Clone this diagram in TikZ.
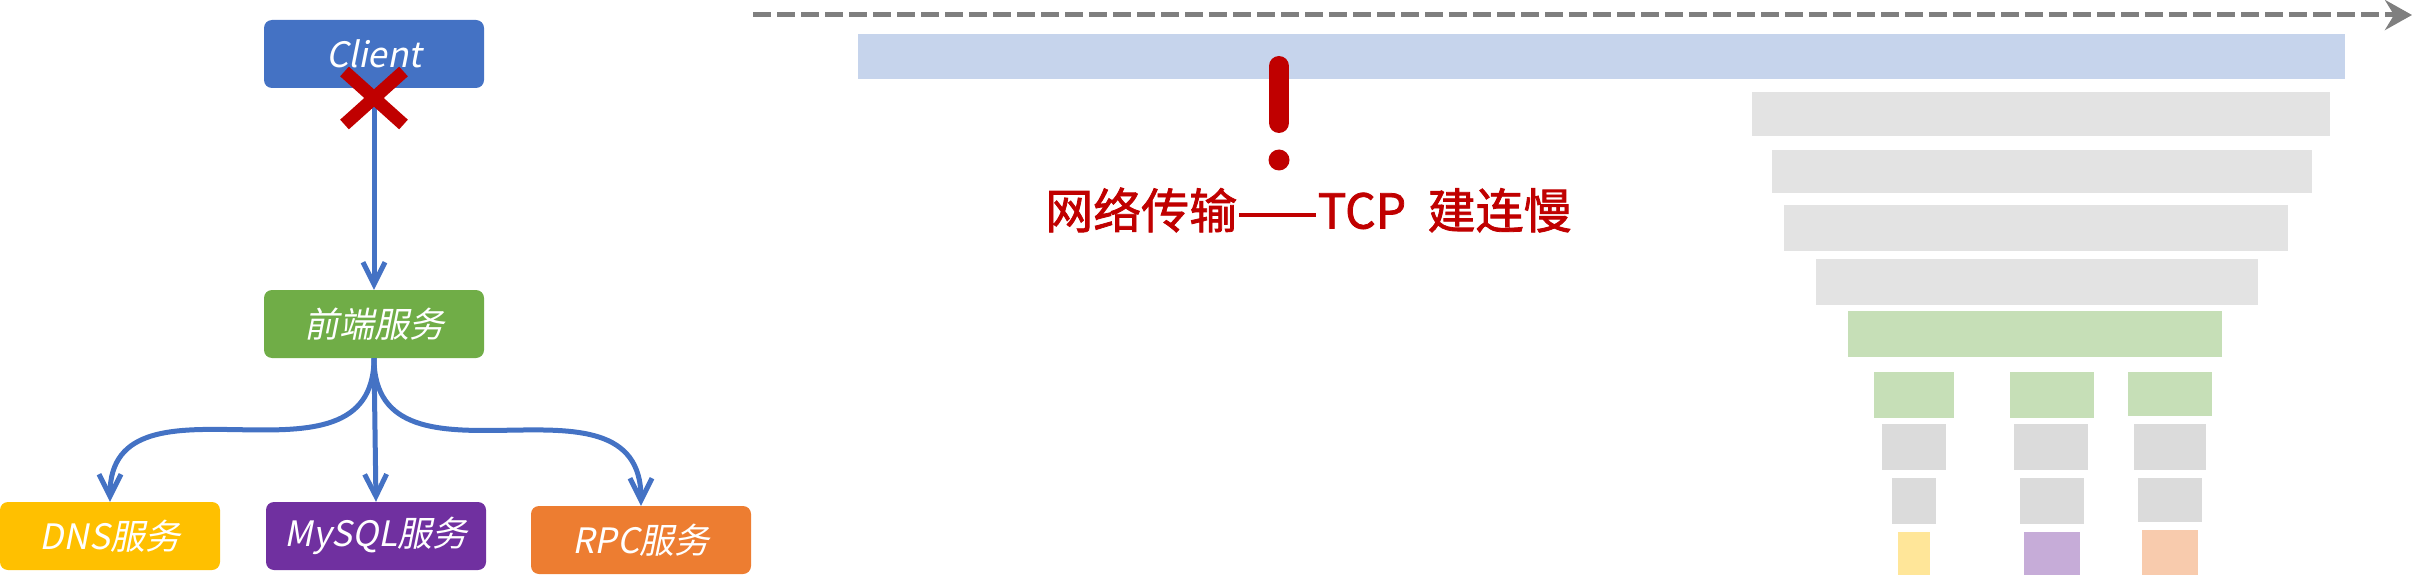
\documentclass[tikz,border=0pt]{standalone}
\usepackage{fontspec}
\newfontfamily\cjk[FakeBold=1.6]{Noto Sans CJK SC}
\newfontfamily\cjkslant[FakeSlant=0.2]{Noto Sans CJK SC}
\usetikzlibrary{arrows.meta,shapes.misc}

\definecolor{cblue}{HTML}{4472C4}
\definecolor{cgreen}{HTML}{70AD47}
\definecolor{cyellow}{HTML}{FFC000}
\definecolor{cpurple}{HTML}{7030A0}
\definecolor{corange}{HTML}{ED7D31}
\definecolor{cred}{HTML}{C00000}
\definecolor{cgray}{HTML}{7F7F7F}
\definecolor{barblue}{HTML}{C6D4EC}
\definecolor{bargray}{HTML}{E3E3E3}
\definecolor{bargrayd}{HTML}{DBDBDB}
\definecolor{bargreen}{HTML}{C6DFB7}
\definecolor{baryellow}{HTML}{FFE699}
\definecolor{barpurple}{HTML}{C6ACD8}
\definecolor{barorange}{HTML}{F8CBAD}

\begin{document}
\begin{tikzpicture}[x=1pt,y=-1pt]
    \tikzstyle{svc}=[
        rounded corners=8pt,
        minimum width=220pt,
        minimum height=68pt,
        inner sep=0pt,
        text=white,
        font=\cjkslant\fontsize{35}{40}\selectfont]
    \tikzstyle{link}=[draw=cblue, line width=5pt,
        -{Straight Barb[length=22pt,width=22pt]}]
    \tikzstyle{timeline}=[draw=cgray, line width=5pt, dash pattern=on 18pt off 6pt,
        -{Stealth[length=27pt,width=30pt,inset=9pt]}]

    \useasboundingbox (0,0) rectangle (2414,580);

    % call chain
    \node[svc, fill=cblue] (client) at (374,54) {Client};
    \node[svc, fill=cgreen] (front) at (374,324) {前端服务};
    \node[svc, fill=cyellow] (dns) at (110,536) {DNS服务};
    \node[svc, fill=cpurple] (mysql) at (376,536) {MySQL服务};
    \node[svc, fill=corange] (rpc) at (641,540) {RPC服务};

    \draw[link] (client) -- (front);
    \draw[link] (front.south) .. controls +(0,145) and +(0,-143) .. (dns.north);
    \draw[link] (front.south) -- (mysql.north);
    \draw[link] (front.south) .. controls +(0,147) and +(0,-149) .. (rpc.north);
    \node[cross out, draw=cred, line width=13pt, minimum width=46pt,
        minimum height=40pt, inner sep=0pt] (broken) at (374,98) {};

    % time line
    \coordinate (t0) at (753,15);
    \coordinate (t1) at (2412,15);
    \draw[timeline] (t0) -- (t1);
    \fill[barblue] (858,34) rectangle (2345,79);

    \draw[cred, line width=20pt, line cap=round] (1279,66) -- (1279,123);
    \fill[cred] (1279,160) circle[radius=10.5pt];
    \node[anchor=west, inner sep=0pt, text=cred,
        font=\cjk\fontsize{48}{54}\selectfont] (slow) at (1045,210)
        {网络传输——TCP\ \ 建连慢};

    \foreach \xa/\ya/\xb/\yb in {1752/92/2330/136, 1772/150/2312/193,
        1784/205/2288/251, 1816/259/2258/305}
        \fill[bargray] (\xa,\ya) rectangle (\xb,\yb);
    \fill[bargreen] (1848,311) rectangle (2222,357);
    \foreach \xa/\xb/\yb in {1874/1954/418, 2010/2094/418, 2128/2212/416}
        \fill[bargreen] (\xa,372) rectangle (\xb,\yb);
    \foreach \xa/\xb in {1882/1946, 2014/2088, 2134/2206}
        \fill[bargrayd] (\xa,424) rectangle (\xb,470);
    \foreach \xa/\xb/\yb in {1892/1936/524, 2020/2084/524, 2138/2202/522}
        \fill[bargrayd] (\xa,478) rectangle (\xb,\yb);
    \fill[baryellow] (1898,532) rectangle (1930,575);
    \fill[barpurple] (2024,532) rectangle (2080,575);
    \fill[barorange] (2142,530) rectangle (2198,575);
\end{tikzpicture}
\end{document}
